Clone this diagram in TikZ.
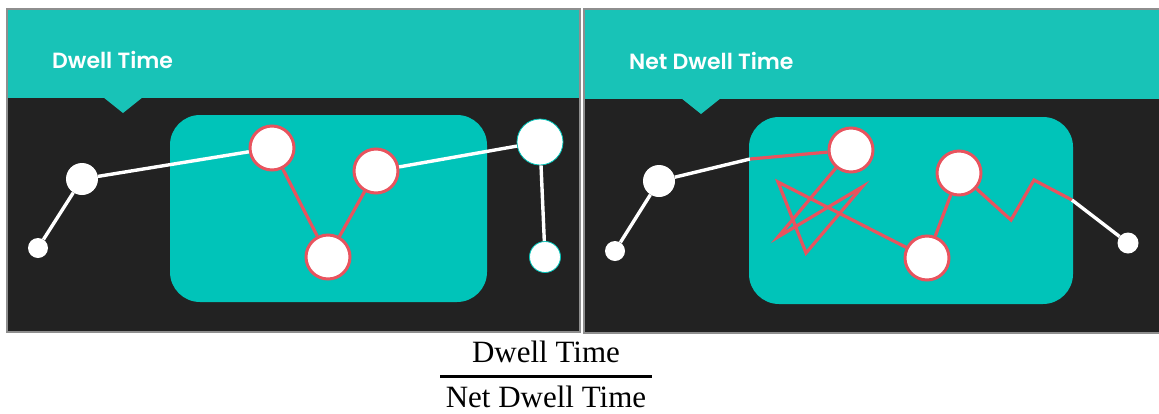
\documentclass[tikz,border=0pt]{standalone}
\usepackage{fontspec}
\setmainfont{Liberation Serif}
\newfontfamily\headfont{Poppins}[UprightFont=* SemiBold]
\definecolor{band}{HTML}{18C3B7}
\definecolor{zone}{HTML}{00C4B9}
\definecolor{slate}{HTML}{222222}
\definecolor{dwred}{HTML}{E8535E}
\definecolor{frame}{HTML}{8E8E8E}
\begin{document}
\begin{tikzpicture}[x=1pt,y=-1pt,
  dot/.style={circle,fill=white,inner sep=0pt,minimum size=#1},
  stop/.style={circle,fill=white,draw=dwred,line width=3pt,inner sep=0pt,minimum size=44pt},
  trail/.style={draw=white,line width=3.4pt},
  wander/.style={draw=dwred,line width=3.2pt,line join=miter},
  title/.style={font=\headfont\fontsize{22}{26}\selectfont,text=white,anchor=west,inner sep=0pt},
  formula/.style={font=\fontsize{31}{36}\selectfont,inner sep=0pt}]
\useasboundingbox (0,0) rectangle (1159,413);
\fill[white] (0,0) rectangle (1159,413);

% ---- left panel: dwell time ----
\fill[slate] (7,9) rectangle (580,332);
\fill[band] (7,9) rectangle (580,98);
\fill[band] (103,97) -- (143,97) -- (123,113) -- cycle;
\draw[frame,line width=2pt] (7,9) rectangle (580,332);
\fill[zone,rounded corners=30pt] (170,115) rectangle (487,302);
\node[title] (lt) at (52,60) {Dwell Time};

\node[dot=20pt] (A) at (38,248) {};
\node[dot=32pt] (B) at (82,179) {};
\node[stop] (C) at (272,148) {};
\node[stop] (D) at (376,171) {};
\node[stop] (E) at (328,257) {};
\node[dot=46pt,draw=zone,line width=0.8pt] (F) at (540,142) {};
\node[dot=31pt,draw=zone,line width=0.8pt] (G) at (545,257) {};
\draw[trail] (A) -- (B);
\draw[trail] (B) -- (C);
\draw[wander] (C) -- (E);
\draw[wander] (E) -- (D);
\draw[trail] (D) -- (F);
\draw[trail] (F) -- (G);

% ---- right panel: net dwell time ----
\fill[slate] (584,9) rectangle (1159,333);
\fill[band] (584,9) rectangle (1159,99);
\fill[band] (681,98) -- (721,98) -- (701,114) -- cycle;
\draw[frame,line width=2pt] (1159,9) -- (584,9) -- (584,333) -- (1159,333);
\fill[zone,rounded corners=30pt] (749,117) rectangle (1073,304);
\node[title] (rt) at (629,61) {Net Dwell Time};

\node[dot=20pt] (a) at (615,251) {};
\node[dot=32pt] (b) at (659,181) {};
\node[stop] (c) at (851,150) {};
\node[stop] (d) at (959,173) {};
\node[stop] (e) at (927,258) {};
\node[dot=21pt] (f) at (1128,243) {};
\coordinate (in) at (750,159);
\coordinate (s1) at (778,237);
\coordinate (s2) at (862,187);
\coordinate (s3) at (806,253);
\coordinate (s4) at (778,182);
\coordinate (z1) at (1011,220);
\coordinate (z2) at (1034,180);
\coordinate (out) at (1072,200);
\draw[trail] (a) -- (b);
\draw[trail] (b) -- (in);
\draw[wander] (in) -- (c);
\draw[wander] (c) -- (s1) -- (s2) -- (s3) -- (s4) -- (e);
\draw[wander] (e) -- (d);
\draw[wander] (d) -- (z1) -- (z2) -- (out);
\draw[trail] (out) -- (f);

% ---- ratio below ----
\node[formula] (num) at (546,352) {Dwell Time};
\node[formula] (den) at (546,397) {Net Dwell Time};
\coordinate (barL) at (440,376);
\coordinate (barR) at (652,376);
\draw[line width=3pt] (barL) -- (barR);
\end{tikzpicture}
\end{document}
